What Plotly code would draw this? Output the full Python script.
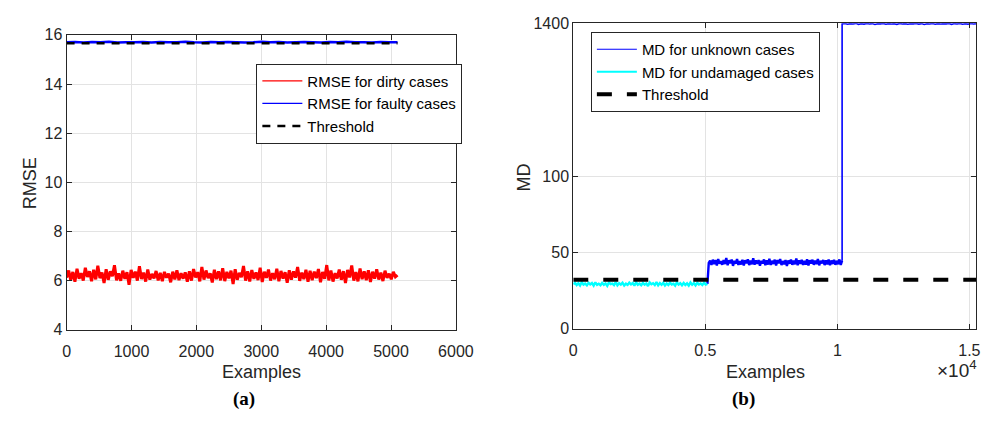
import numpy as np
import plotly.graph_objects as go

# ---------------- data ----------------
# (a) RMSE
n_examples_a = 5100
rmse_dirty = [
    6.12,6.41,6.02,6.35,5.95,6.48,6.08,6.30,6.00,6.52,
    6.15,6.38,5.97,6.44,6.05,6.60,6.10,6.33,5.90,6.46,
    6.03,6.37,6.18,6.62,6.01,6.29,5.99,6.40,6.07,6.34,
    5.83,6.43,6.11,6.36,6.00,6.58,6.06,6.32,5.96,6.45,
    6.04,6.27,6.09,6.39,6.01,6.31,5.98,6.35,6.12,6.28,
    5.93,6.36,6.05,6.42,6.02,6.30,6.08,6.33,5.95,6.38,
    6.00,6.47,6.13,6.34,5.97,6.55,6.04,6.41,6.10,6.29,
    5.92,6.44,6.06,6.37,6.01,6.50,5.98,6.35,6.09,6.40,
    5.86,6.46,6.03,6.31,6.14,6.59,6.00,6.38,5.96,6.43,
    6.07,6.33,6.02,6.52,5.94,6.36,6.11,6.45,6.00,6.30,
    6.05,6.48,5.97,6.39,6.08,6.34,5.91,6.42,6.04,6.37,
    6.12,6.55,5.99,6.32,6.06,6.44,5.95,6.40,6.02,6.36,
    6.10,6.47,5.93,6.35,6.07,6.63,6.01,6.41,5.96,6.30,
    6.09,6.45,6.03,6.38,5.90,6.43,6.13,6.61,6.00,6.34,
    5.97,6.49,6.06,6.37,6.02,6.42,5.94,6.36,6.08,6.46,
    6.04,6.32,5.98,6.40,6.11,6.28,6.05,6.35,6.15,6.22,
]
rmse_faulty = [
    15.70,15.71,15.69,15.71,15.70,15.72,15.69,15.70,15.70,15.71,
    15.69,15.71,15.70,15.70,15.72,15.70,15.69,15.71,15.70,15.71,
    15.70,15.69,15.70,15.72,15.70,15.71,15.69,15.70,15.71,15.70,
    15.69,15.71,15.70,15.72,15.70,15.70,15.69,15.71,15.70,15.70,
]
rmse_threshold = 15.66

# (b) MD
md_x_max = 15260
md_split1 = 5080
md_split2 = 10180
md_undamaged = [
    29.1,30.2,28.6,29.8,28.3,30.5,28.9,29.6,28.4,30.1,
    29.0,29.9,28.2,30.4,28.7,29.5,28.5,30.0,28.8,29.7,
    28.1,30.3,29.2,29.6,28.6,30.6,28.4,29.8,28.9,30.1,
    28.3,29.5,28.7,30.2,29.0,29.9,28.2,30.4,28.8,29.6,
    28.5,30.0,28.9,29.7,28.0,30.3,29.1,29.8,28.6,30.5,
    28.4,29.9,28.8,30.1,28.3,29.6,28.7,30.2,29.0,29.5,
    28.2,30.4,28.9,29.8,28.5,30.0,28.6,29.7,28.3,30.3,
    28.8,29.9,28.4,30.1,29.0,29.6,28.7,30.2,28.9,29.4,
]
md_unknown_mid = [
    29.4,
    43.1,44.6,41.8,45.2,42.3,44.9,41.5,45.6,42.7,44.2,
    41.9,45.0,42.4,46.3,41.6,44.8,42.9,45.3,41.2,44.5,
    42.6,45.7,41.8,44.3,42.1,45.1,41.4,44.9,42.8,45.5,
    41.7,44.6,42.2,46.1,41.9,44.7,42.5,45.0,41.3,44.4,
    42.7,45.4,41.6,44.8,42.0,45.9,41.8,44.5,42.4,45.2,
    41.5,44.9,42.9,45.6,41.7,44.3,42.3,45.0,41.1,44.7,
    42.6,45.3,41.9,44.6,42.2,46.0,41.6,44.8,42.5,45.1,
    41.8,44.4,42.0,45.5,41.4,44.9,42.7,45.2,41.9,44.6,
    42.3,45.7,41.5,44.5,42.8,45.0,41.7,44.8,42.1,45.3,
    41.6,44.7,42.4,45.1,41.9,44.5,42.2,45.4,41.8,44.6,
]
md_unknown_high = [
    1396,1399,1393,1398,1395,1400,1392,1397,1394,1399,
    1395,1398,1391,1397,1396,1400,1393,1398,1394,1397,
    1392,1399,1395,1398,1393,1397,1396,1400,1394,1398,
    1391,1397,1395,1399,1393,1398,1394,1397,1396,1399,
    1392,1398,1395,1400,1393,1397,1394,1399,1395,1398,
]
md_threshold = 32
md_ticks = [0, 50, 100, 1400]
md_tick_labels = ["0", "50", "100", "1400"]
md_xticks = [0, 5000, 10000, 15000]
md_xtick_labels = ["0", "0.5", "1", "1.5"]


def md_scale(v):
    """Broken-axis mapping: linear up to 100, compressed above."""
    v = np.asarray(v, dtype=float)
    return np.where(v <= 100, v, 100 + (v - 100) / 13.0)


W, H = 1006, 428


def px(x):
    return x / W


def py(y):
    return 1 - y / H


FONT = "Liberation Sans, Arial"
fig = go.Figure()


def legend_entry(name, color, width, legend, dash="solid"):
    """Legend-only key (thin line like the original legend)."""
    fig.add_trace(go.Scatter(x=[None], y=[None], mode="lines", name=name,
                             line=dict(color=color, width=width, dash=dash),
                             legend=legend, hoverinfo="skip",
                             xaxis="x" if legend == "legend" else "x2",
                             yaxis="y" if legend == "legend" else "y2"))


# ---------- (a) ----------
xa_d = np.linspace(0, n_examples_a, len(rmse_dirty))
xa_f = np.linspace(0, n_examples_a, len(rmse_faulty))
fig.add_trace(go.Scatter(x=xa_d, y=rmse_dirty, mode="lines",
                         line=dict(color="#ff0000", width=3, simplify=False),
                         name="RMSE for dirty cases", xaxis="x", yaxis="y",
                         showlegend=False))
fig.add_trace(go.Scatter(x=xa_f, y=rmse_faulty, mode="lines",
                         line=dict(color="#0000ff", width=2.5, simplify=False),
                         name="RMSE for faulty cases", xaxis="x", yaxis="y",
                         showlegend=False))
fig.add_trace(go.Scatter(x=[0, n_examples_a], y=[rmse_threshold] * 2, mode="lines",
                         line=dict(color="black", width=2.5, dash="8px,7px"),
                         name="Threshold", xaxis="x", yaxis="y", showlegend=False))
legend_entry("RMSE for dirty cases", "#ff0000", 1.3, "legend")
legend_entry("RMSE for faulty cases", "#0000ff", 1.3, "legend")
legend_entry("Threshold", "black", 2.5, "legend", dash="8px,7px")

# ---------- (b) ----------
xb_u = np.linspace(0, md_split1, len(md_undamaged))
xb_m = np.linspace(md_split1, md_split2, len(md_unknown_mid))
xb_h = np.concatenate([[md_split2], np.linspace(md_split2, md_x_max, len(md_unknown_high))])
yb_h = md_scale([md_unknown_mid[-1]] + md_unknown_high)
fig.add_trace(go.Scatter(x=xb_m, y=md_scale(md_unknown_mid), mode="lines",
                         line=dict(color="#0000ff", width=2.4, simplify=False),
                         name="MD for unknown cases", xaxis="x2", yaxis="y2",
                         showlegend=False))
fig.add_trace(go.Scatter(x=xb_h, y=yb_h, mode="lines",
                         line=dict(color="#0000ff", width=1.6, simplify=False),
                         name="MD for unknown cases", xaxis="x2", yaxis="y2",
                         showlegend=False))
fig.add_trace(go.Scatter(x=xb_u, y=md_scale(md_undamaged), mode="lines",
                         line=dict(color="#00ffff", width=2.4, simplify=False),
                         name="MD for undamaged cases", xaxis="x2", yaxis="y2",
                         showlegend=False))
fig.add_trace(go.Scatter(x=[0, md_x_max], y=md_scale([md_threshold, md_threshold]),
                         mode="lines",
                         line=dict(color="black", width=4, dash="15px,15px"),
                         name="Threshold", xaxis="x2", yaxis="y2",
                         showlegend=False))
legend_entry("MD for unknown cases", "#0000ff", 1.2, "legend2")
legend_entry("MD for undamaged cases", "#00ffff", 2, "legend2")
legend_entry("Threshold", "black", 4, "legend2", dash="15px,15px")

axis_common = dict(showline=True, linecolor="#262626", linewidth=1, mirror="allticks",
                   ticks="inside", ticklen=5, tickcolor="#262626",
                   showgrid=True, gridcolor="#e3e3e3", gridwidth=1, zeroline=False,
                   tickfont=dict(family=FONT, size=16, color="#262626"))

fig.update_layout(
    width=W, height=H,
    margin=dict(l=0, r=0, t=0, b=0),
    paper_bgcolor="white", plot_bgcolor="white",
    showlegend=True,
    xaxis=dict(domain=[px(64), px(462)], range=[0, 6000], tickvals=list(range(0, 6001, 1000)),
               anchor="y", ticklabelstandoff=7, **axis_common),
    yaxis=dict(domain=[py(335), py(28)], range=[4, 16], tickvals=list(range(4, 17, 2)),
               anchor="x", **axis_common),
    xaxis2=dict(domain=[px(582), px(994)], range=[0, md_x_max], tickvals=md_xticks,
                ticktext=md_xtick_labels, anchor="y2", ticklabelstandoff=7, **axis_common),
    yaxis2=dict(domain=[py(334), py(16)], range=[0, 200],
                tickvals=list(md_scale(md_ticks)), ticktext=md_tick_labels,
                anchor="x2", **axis_common),
    legend=dict(x=px(258), y=py(58), xanchor="left", yanchor="top",
                bgcolor="white", bordercolor="#262626", borderwidth=1,
                font=dict(family=FONT, size=15, color="black"),
                tracegroupgap=0, itemwidth=40),
    legend2=dict(x=px(600), y=py(25), xanchor="left", yanchor="top",
                 bgcolor="white", bordercolor="#262626", borderwidth=1,
                 font=dict(family=FONT, size=15, color="black"),
                 tracegroupgap=0, itemwidth=40),
)

label_font = dict(family=FONT, size=18, color="#262626")
ann = [
    dict(text="RMSE", x=px(26), y=py(182), textangle=-90, font=label_font),
    dict(text="Examples", x=px(263), y=py(379), font=label_font),
    dict(text="MD", x=px(532), y=py(176), textangle=-90, font=label_font),
    dict(text="Examples", x=px(779), y=py(379), font=label_font),
    dict(text="×10<sup>4</sup>", x=px(974), y=py(376), font=dict(family=FONT, size=19, color="#262626")),
    dict(text="<b>(a)</b>", x=px(245), y=py(407),
         font=dict(family="Liberation Serif, Times New Roman", size=19, color="black")),
    dict(text="<b>(b)</b>", x=px(756), y=py(407),
         font=dict(family="Liberation Serif, Times New Roman", size=19, color="black")),
]
for a in ann:
    fig.add_annotation(xref="paper", yref="paper", showarrow=False,
                       xanchor="center", yanchor="middle", **a)

fig.write_html("out.html")
